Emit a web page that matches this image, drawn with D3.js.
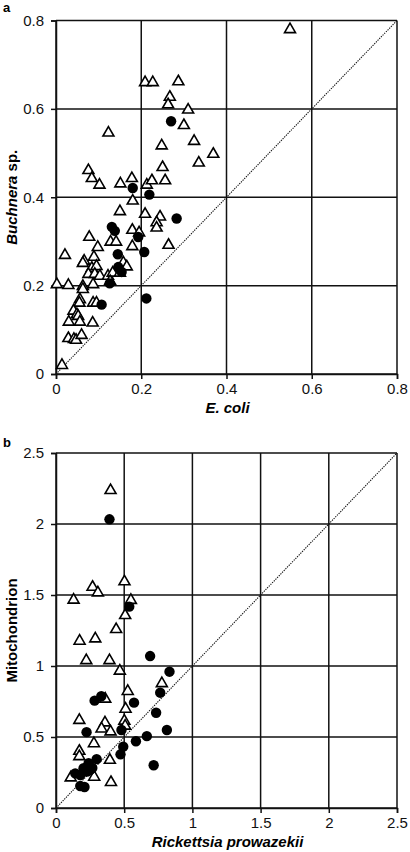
<!DOCTYPE html>
<html><head><meta charset="utf-8">
<script src="https://cdn.jsdelivr.net/npm/d3@7/dist/d3.min.js"></script>
<style>html,body{margin:0;padding:0;background:#fff;}svg{display:block;}</style>
</head><body>
<svg id="chart" width="410" height="852"></svg>
<script>
// Panel a: Buchnera sp. vs E. coli
const aTicks = [0, 0.2, 0.4, 0.6, 0.8];
const aTriangles = [
 [0.549,0.782],[0.209,0.662],[0.227,0.662],[0.287,0.664],[0.267,0.629],[0.263,0.612],[0.310,0.600],
 [0.300,0.565],[0.123,0.548],[0.324,0.529],[0.369,0.500],[0.248,0.519],[0.335,0.480],[0.250,0.470],
 [0.076,0.463],[0.084,0.445],[0.102,0.430],[0.151,0.433],[0.178,0.445],[0.213,0.430],[0.225,0.440],
 [0.256,0.440],[0.180,0.394],[0.150,0.370],[0.209,0.364],[0.244,0.358],[0.236,0.345],[0.236,0.333],
 [0.179,0.328],[0.195,0.322],[0.078,0.312],[0.098,0.289],[0.128,0.301],[0.141,0.301],[0.179,0.291],
 [0.264,0.294],[0.021,0.271],[0.066,0.258],[0.089,0.267],[0.063,0.253],[0.084,0.242],[0.095,0.246],
 [0.076,0.228],[0.091,0.228],[0.103,0.224],[0.122,0.224],[0.133,0.231],[0.158,0.254],[0.166,0.245],
 [0.150,0.231],[0.127,0.212],[0.002,0.205],[0.029,0.203],[0.063,0.201],[0.063,0.194],[0.087,0.205],
 [0.056,0.171],[0.055,0.163],[0.087,0.163],[0.095,0.163],[0.041,0.145],[0.049,0.137],[0.052,0.133],
 [0.030,0.120],[0.056,0.120],[0.086,0.118],[0.029,0.083],[0.042,0.081],[0.047,0.079],[0.060,0.090],
 [0.014,0.022]
];
const aCircles = [
 [0.270,0.572],[0.180,0.421],[0.219,0.406],[0.283,0.352],[0.131,0.333],[0.138,0.324],[0.193,0.310],
 [0.207,0.276],[0.145,0.271],[0.146,0.242],[0.154,0.231],[0.126,0.205],[0.212,0.171],[0.107,0.157]
];

// Panel b: Mitochondrion vs Rickettsia prowazekii
const bTicks = [0, 0.5, 1, 1.5, 2, 2.5];
const bTriangles = [
 [0.400,2.244],[0.502,1.601],[0.268,1.563],[0.307,1.523],[0.129,1.472],[0.549,1.470],[0.507,1.364],
 [0.441,1.265],[0.173,1.183],[0.288,1.199],[0.222,1.046],[0.392,1.046],[0.468,0.972],[0.776,0.884],
 [0.526,0.829],[0.361,0.775],[0.510,0.704],[0.171,0.625],[0.359,0.608],[0.501,0.620],[0.334,0.565],
 [0.400,0.544],[0.507,0.585],[0.278,0.461],[0.171,0.408],[0.171,0.370],[0.395,0.344],[0.108,0.220],
 [0.280,0.225],[0.403,0.188]
];
const bCircles = [
 [0.392,2.033],[0.537,1.418],[0.690,1.070],[0.832,0.960],[0.764,0.812],[0.283,0.756],[0.332,0.787],
 [0.572,0.742],[0.734,0.671],[0.480,0.549],[0.813,0.549],[0.224,0.534],[0.666,0.506],[0.586,0.470],
 [0.493,0.432],[0.473,0.378],[0.298,0.344],[0.716,0.301],[0.239,0.315],[0.202,0.280],[0.227,0.256],
 [0.141,0.244],[0.178,0.232],[0.266,0.282],[0.178,0.155],[0.209,0.148],[0.250,0.268]
];

const svg = d3.select("#chart");
const FONT = "'Liberation Sans', Arial, sans-serif";

function panel(cfg) {
  const x = d3.scaleLinear().domain(cfg.domain).range([cfg.left, cfg.right]);
  const y = d3.scaleLinear().domain(cfg.domain).range([cfg.bottom, cfg.top]);
  const g = svg.append("g");

  // gridlines
  g.selectAll("line.vg").data(cfg.ticks).join("line")
    .attr("x1", d => x(d)).attr("x2", d => x(d))
    .attr("y1", cfg.top).attr("y2", cfg.bottom)
    .attr("stroke", "#111").attr("stroke-width", 1.5);
  g.selectAll("line.hg").data(cfg.ticks).join("line")
    .attr("y1", d => y(d)).attr("y2", d => y(d))
    .attr("x1", cfg.left).attr("x2", cfg.right)
    .attr("stroke", "#111").attr("stroke-width", 1.5);

  // axes
  const xa = g.append("g").attr("transform", `translate(0,${cfg.bottom})`)
    .call(d3.axisBottom(x).tickValues(cfg.ticks).tickSize(5).tickPadding(4).tickFormat(d3.format("")));
  const ya = g.append("g").attr("transform", `translate(${cfg.left},0)`)
    .call(d3.axisLeft(y).tickValues(cfg.ticks).tickSize(5).tickPadding(7).tickFormat(d3.format("")));
  [xa, ya].forEach(a => {
    a.select(".domain").attr("stroke", "#111").attr("stroke-width", 1.5);
    a.selectAll(".tick line").attr("stroke", "#111").attr("stroke-width", 1.5);
    a.selectAll(".tick text").attr("font-family", FONT).attr("font-size", 15).attr("fill", "#111");
  });

  // diagonal y = x
  g.append("line")
    .attr("x1", x(cfg.domain[0])).attr("y1", y(cfg.domain[0]))
    .attr("x2", x(cfg.domain[1])).attr("y2", y(cfg.domain[1]))
    .attr("stroke", "#111").attr("stroke-width", 1.1).attr("stroke-dasharray", "1.3,1.1");

  // triangles
  const tri = d3.symbol().type(d3.symbolTriangle).size(52);
  g.selectAll("path.tri").data(cfg.triangles).join("path")
    .attr("d", tri)
    .attr("transform", d => `translate(${x(d[0])},${y(d[1]) + 1})`)
    .attr("fill", "#fff").attr("stroke", "#000").attr("stroke-width", 1.6);

  // circles
  g.selectAll("circle.pt").data(cfg.circles).join("circle")
    .attr("cx", d => x(d[0])).attr("cy", d => y(d[1])).attr("r", 5.2)
    .attr("fill", "#000");

  // panel letter
  svg.append("text").attr("x", 3).attr("y", cfg.letterY)
    .attr("font-family", FONT).attr("font-weight", "bold").attr("font-size", 13)
    .text(cfg.letter);

  // x label
  const xl = svg.append("text").attr("x", (cfg.left + cfg.right) / 2 + 1).attr("y", cfg.bottom + 39)
    .attr("text-anchor", "middle").attr("font-family", FONT).attr("font-weight", "bold")
    .attr("font-size", 15);
  cfg.xlabel.forEach(p => xl.append("tspan").attr("font-style", p[1] ? "italic" : "normal").text(p[0]));

  // y label
  const yl = svg.append("text")
    .attr("transform", `translate(17,${(cfg.top + cfg.bottom) / 2}) rotate(-90)`)
    .attr("text-anchor", "middle").attr("font-family", FONT).attr("font-weight", "bold")
    .attr("font-size", 15);
  cfg.ylabel.forEach(p => yl.append("tspan").attr("font-style", p[1] ? "italic" : "normal").text(p[0]));
}

panel({
  domain: [0, 0.8], ticks: aTicks, left: 56, right: 397, top: 20.5, bottom: 374,
  triangles: aTriangles, circles: aCircles, letter: "a", letterY: 12,
  xlabel: [["E. coli", true]], ylabel: [["Buchnera", true], [" sp.", false]]
});
panel({
  domain: [0, 2.5], ticks: bTicks, left: 56, right: 397, top: 453, bottom: 808,
  triangles: bTriangles, circles: bCircles, letter: "b", letterY: 447,
  xlabel: [["Rickettsia prowazekii", true]], ylabel: [["Mitochondrion", false]]
});
</script>
</body></html>
